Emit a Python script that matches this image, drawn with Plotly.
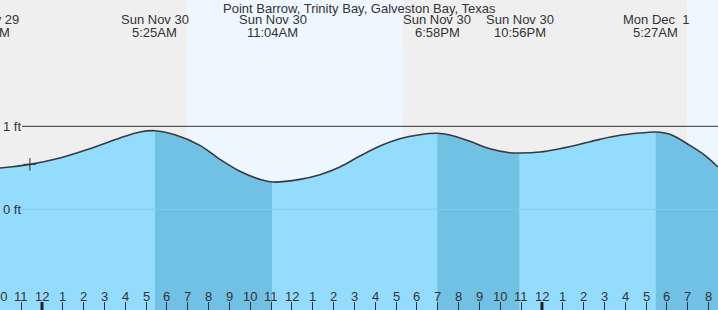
import plotly.graph_objects as go

# ---- data (hours measured from midnight, Sun Nov 30) ----
hours = [-2.62, -2.02, -0.58, 0.86, 2.30, 3.74, 4.70, 5.417, 6.38, 7.58, 8.54, 9.50,
         10.46, 11.067, 12.38, 13.34, 14.30, 15.26, 16.22, 17.18, 18.14, 18.967, 19.58,
         20.54, 21.50, 22.46, 22.933, 23.90, 24.86, 25.82, 26.78, 27.74, 28.70, 29.45,
         30.14, 31.10, 31.82, 32.45]
level_ft = [0.49, 0.498, 0.542, 0.618, 0.730, 0.859, 0.931, 0.947, 0.899, 0.771,
            0.602, 0.458, 0.361, 0.329, 0.361, 0.417, 0.510, 0.642, 0.763, 0.851, 0.899,
            0.916, 0.896, 0.819, 0.730, 0.682, 0.678, 0.690, 0.730, 0.783, 0.843, 0.892,
            0.919, 0.931, 0.904, 0.771, 0.651, 0.510]

event_hours = [-2.62, 5.417, 11.067, 18.967, 22.933, 29.45]
event_types = ["low", "high", "low", "high", "low", "high"]
event_days = ["Sat Nov 29", "Sun Nov 30", "Sun Nov 30", "Sun Nov 30", "Sun Nov 30", "Mon Dec  1"]
event_times = ["9:23PM", "5:25AM", "11:04AM", "6:58PM", "10:56PM", "5:27AM"]

sun_hours = [6.95, 17.33, 30.96]          # sunrise, sunset, sunrise
midnights = [0, 24]

tick_hours = list(range(-2, 33))
tick_labels = ["10", "11", "12", "1", "2", "3", "4", "5", "6", "7", "8", "9", "10", "11",
               "12", "1", "2", "3", "4", "5", "6", "7", "8", "9", "10", "11",
               "12", "1", "2", "3", "4", "5", "6", "7", "8"]

now_hour = -0.58
now_level = 0.542

title = "Point Barrow, Trinity Bay, Galveston Bay, Texas"
ft_levels = [1, 0]
ft_labels = ["1 ft", "0 ft"]

# ---- style ----
X_RANGE = [-2.016, 32.45]
Y_RANGE = [-1.213, 2.522]
NIGHT = "#efefef"
DAY = "#eef7ff"
LIGHT = "#94dcfd"
DARK = "#71c1e5"
TXT = "#333333"
FONT = "Liberation Sans, Arial, sans-serif"


def to_paper(h):
    return (h - X_RANGE[0]) / (X_RANGE[1] - X_RANGE[0])


fig = go.Figure()

# background day / night bands
bounds = [X_RANGE[0]] + sun_hours + [X_RANGE[1]]
for i in range(len(bounds) - 1):
    col = NIGHT if i % 2 == 0 else DAY
    fig.add_shape(type="rect", xref="x", yref="paper", x0=bounds[i], x1=bounds[i + 1],
                  y0=0, y1=1, fillcolor=col, line_width=0, layer="below")

# filled segments between tide events
cuts = event_hours + [hours[-1]]
for i in range(len(cuts) - 1):
    a, b = cuts[i], cuts[i + 1]
    seg = [(h, v) for h, v in zip(hours, level_ft) if a <= h <= b]
    xs = [p[0] for p in seg]
    ys = [p[1] for p in seg]
    color = DARK if event_types[i] == "high" else LIGHT
    fig.add_trace(go.Scatter(x=[xs[0], xs[-1]], y=[Y_RANGE[0], Y_RANGE[0]], mode="lines",
                             line=dict(width=0), hoverinfo="skip", showlegend=False))
    fig.add_trace(go.Scatter(x=xs, y=ys, mode="lines", line=dict(width=0, shape="spline"),
                             fill="tonexty", fillcolor=color, hoverinfo="skip",
                             showlegend=False))

# reference lines
fig.add_shape(type="line", xref="paper", yref="y", x0=22 / 718, x1=1, y0=0, y1=0,
              line=dict(color="#7ccaee", width=1))
fig.add_shape(type="line", xref="paper", yref="y", x0=22 / 718, x1=1, y0=1, y1=1,
              line=dict(color=TXT, width=1))

# tide curve
fig.add_trace(go.Scatter(x=hours, y=level_ft, mode="lines",
                         line=dict(color="#3a3a3a", width=1.6, shape="spline"),
                         hoverinfo="skip", showlegend=False))

# current position marker
fig.add_trace(go.Scatter(x=[now_hour], y=[now_level], mode="markers",
                         marker=dict(symbol="cross-thin", size=9,
                                     line=dict(color="#333333", width=1)),
                         hoverinfo="skip", showlegend=False))

# midnight thick ticks
for m in midnights:
    fig.add_shape(type="line", xref="x", yref="paper", x0=m, x1=m, y0=0, y1=8 / 310,
                  line=dict(color="#222222", width=3))

annotations = []
annotations.append(dict(text=title, xref="paper", yref="paper", x=0.5, y=1, xanchor="center",
                        yanchor="middle", yshift=-8, showarrow=False,
                        font=dict(size=13, color=TXT)))
for h, d, t in zip(event_hours, event_days, event_times):
    px = to_paper(h)
    annotations.append(dict(text=d, xref="paper", yref="paper", x=px, y=1, xanchor="center",
                            yanchor="middle", yshift=-19, showarrow=False,
                            font=dict(size=13, color=TXT)))
    annotations.append(dict(text=t, xref="paper", yref="paper", x=px, y=1, xanchor="center",
                            yanchor="middle", yshift=-32, showarrow=False,
                            font=dict(size=13, color=TXT)))
for lv, lb in zip(ft_levels, ft_labels):
    annotations.append(dict(text=lb, xref="paper", yref="y", x=0, y=lv, xanchor="left",
                            yanchor="middle", xshift=1, showarrow=False,
                            font=dict(size=13, color=TXT)))
for h, lb in zip(tick_hours, tick_labels):
    annotations.append(dict(text=lb, xref="paper", yref="paper", x=to_paper(h), y=0,
                            xanchor="center", yanchor="middle", yshift=14, showarrow=False,
                            font=dict(size=13, color=TXT)))

fig.update_layout(
    width=718, height=310, autosize=False,
    margin=dict(l=0, r=0, t=0, b=0, pad=0),
    paper_bgcolor="white", plot_bgcolor="white",
    font=dict(family=FONT, size=13, color=TXT),
    annotations=annotations,
    showlegend=False,
    xaxis=dict(range=X_RANGE, showgrid=False, zeroline=False, showline=False,
               tickmode="array", tickvals=tick_hours, showticklabels=False,
               ticks="inside", ticklen=8, tickwidth=1, tickcolor="#333333", fixedrange=True),
    yaxis=dict(range=Y_RANGE, showgrid=False, zeroline=False, showline=False,
               showticklabels=False, ticks="", fixedrange=True),
)

fig.write_html("out.html", config=dict(displayModeBar=False))
